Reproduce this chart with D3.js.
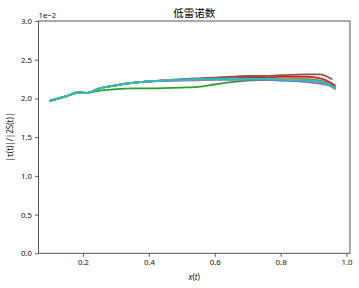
<!DOCTYPE html>
<html><head><meta charset="utf-8">
<script src="https://cdn.jsdelivr.net/npm/d3@7"></script>
<style>body{margin:0;background:#fff}svg{display:block}</style>
</head><body>
<script>
const xTicks = [0.2, 0.4, 0.6, 0.8, 1.0];
const yTicks = [0.0, 0.5, 1.0, 1.5, 2.0, 2.5, 3.0];
const colors = ["#1f77b4","#ff7f0e","#2ca02c","#d62728","#9467bd","#8c564b","#e377c2","#7f7f7f","#bcbd22","#17becf"];
const xs = [0.1, 0.15, 0.19, 0.21, 0.25, 0.3, 0.35, 0.4, 0.5, 0.55, 0.6, 0.65, 0.7, 0.75, 0.8, 0.88, 0.92, 0.95, 0.965];
const sBlue   = [1.97,2.03,2.08,2.07,2.13,2.17,2.20,2.22,2.24,2.245,2.25,2.25,2.25,2.25,2.25,2.24,2.22,2.18,2.14];
const sOrange = [1.97,2.03,2.08,2.07,2.13,2.17,2.20,2.22,2.24,2.245,2.25,2.25,2.25,2.25,2.25,2.24,2.22,2.18,2.14];
const sGreen  = [1.97,2.03,2.08,2.07,2.10,2.12,2.13,2.13,2.14,2.15,2.18,2.21,2.23,2.24,2.25,2.25,2.23,2.19,2.15];
const sRed    = [1.97,2.03,2.08,2.07,2.13,2.17,2.20,2.22,2.24,2.25,2.26,2.26,2.27,2.27,2.28,2.28,2.26,2.21,2.17];
const sPurple = [1.97,2.03,2.08,2.07,2.13,2.17,2.20,2.22,2.23,2.235,2.24,2.24,2.24,2.24,2.23,2.21,2.19,2.16,2.12];
const sBrown  = [1.97,2.03,2.08,2.07,2.13,2.17,2.20,2.22,2.25,2.26,2.27,2.28,2.29,2.29,2.30,2.31,2.31,2.28,2.25];
const sPink   = [1.97,2.03,2.08,2.07,2.13,2.17,2.20,2.22,2.24,2.245,2.25,2.25,2.25,2.25,2.25,2.24,2.22,2.18,2.14];
const sGray   = [1.97,2.03,2.08,2.07,2.13,2.17,2.20,2.22,2.24,2.245,2.25,2.25,2.25,2.25,2.25,2.24,2.22,2.18,2.14];
const sOlive  = [1.97,2.03,2.08,2.07,2.13,2.17,2.20,2.22,2.24,2.245,2.25,2.25,2.25,2.25,2.25,2.23,2.21,2.17,2.13];
const sCyan   = [1.97,2.03,2.08,2.07,2.13,2.17,2.20,2.22,2.24,2.245,2.25,2.25,2.25,2.25,2.24,2.23,2.21,2.17,2.14];
const seriesList = [sBlue,sOrange,sGreen,sRed,sPurple,sBrown,sPink,sGray,sOlive,sCyan];
const brownEnd = 0.955;

const W = 359, H = 288;
const m = {l:38.5, r:350, t:21, b:253.3};
const x = d3.scaleLinear().domain([0.0648, 1.0107]).range([m.l, m.r]);
const y = d3.scaleLinear().domain([0, 3.0]).range([m.b, m.t]);
const FONT = "'Noto Sans', 'Open Sans', sans-serif";

const svg = d3.select("body").append("svg").attr("width", W).attr("height", H)
  .style("font-family", FONT);

const line = d3.line().curve(d3.curveMonotoneX).x(d => x(d[0])).y(d => y(d[1]));
seriesList.forEach((s, i) => {
  let pts = xs.map((xv, j) => [xv, s[j]]);
  if (i === 5) { pts = pts.slice(0, -1); pts[pts.length-1] = [brownEnd, s[s.length-1]]; }
  svg.append("path").datum(pts).attr("d", line)
    .attr("fill", "none").attr("stroke", colors[i]).attr("stroke-width", 1.8)
    .attr("stroke-linejoin", "round").attr("stroke-linecap", "round");
});

const gx = svg.append("g").attr("transform", `translate(0,${m.b})`)
  .call(d3.axisBottom(x).tickValues(xTicks).tickFormat(d3.format(".1f")).tickSizeOuter(0).tickSize(3.5).tickPadding(2.5));
const gy = svg.append("g").attr("transform", `translate(${m.l},0)`)
  .call(d3.axisLeft(y).tickValues(yTicks).tickFormat(d3.format(".1f")).tickSizeOuter(0).tickSize(3.5).tickPadding(3));
[gx, gy].forEach(g => {
  g.select(".domain").remove();
  g.selectAll("line").attr("stroke", "#333").attr("stroke-width", 0.8);
  g.selectAll("text").attr("fill", "#111").style("font-size", "7.8px").style("font-family", FONT);
});

svg.append("rect").attr("x", m.l).attr("y", m.t).attr("width", m.r - m.l).attr("height", m.b - m.t)
  .attr("fill", "none").attr("stroke", "#444").attr("stroke-width", 0.9);

svg.append("text").attr("x", (m.l + m.r) / 2).attr("y", 17).attr("text-anchor", "middle")
  .style("font-family", "'Noto Sans CJK SC', sans-serif").style("font-size", "10.5px").attr("fill", "#000").text("低雷诺数");
svg.append("text").attr("x", m.l).attr("y", 17.5).style("font-size", "7.8px").attr("fill", "#111").text("1e\u22122");

const xl = svg.append("text").attr("x", (m.l + m.r) / 2).attr("y", 280).attr("text-anchor", "middle")
  .style("font-size", "8px").attr("fill", "#111");
xl.append("tspan").style("font-style", "italic").text("x");
xl.append("tspan").text("(");
xl.append("tspan").style("font-style", "italic").text("t");
xl.append("tspan").text(")");

const yl = svg.append("text").attr("transform", `translate(13,${(m.t + m.b) / 2}) rotate(-90)`)
  .attr("text-anchor", "middle").style("font-size", "8px").attr("fill", "#111");
yl.text("|\u03c4(t)|/|2S(t)|");
</script>
</body></html>
